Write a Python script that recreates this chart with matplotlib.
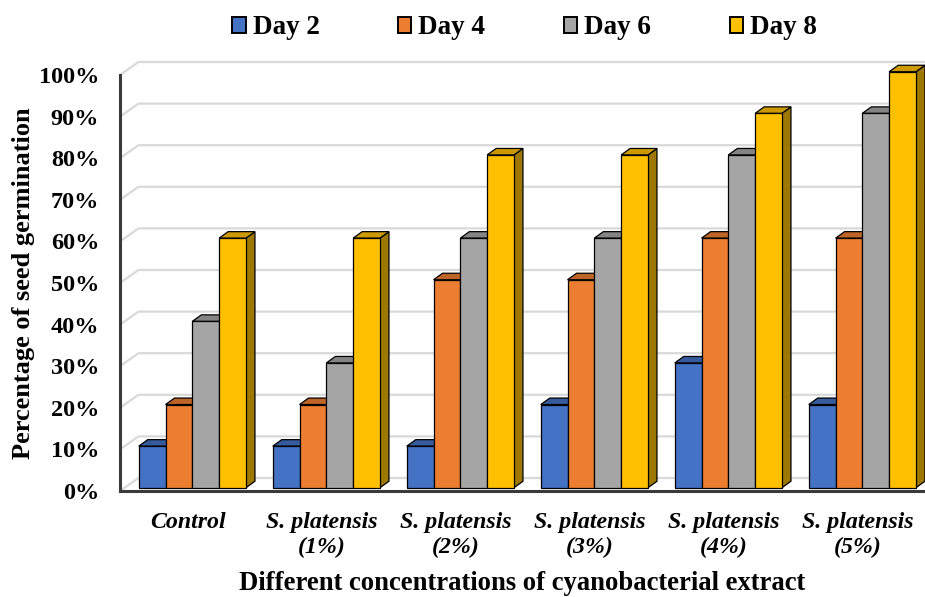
import matplotlib
matplotlib.use("Agg")
import matplotlib.pyplot as plt
from matplotlib.patches import Polygon, Patch
import numpy as np

categories = ["Control", "S. platensis\n(1%)", "S. platensis\n(2%)",
              "S. platensis\n(3%)", "S. platensis\n(4%)", "S. platensis\n(5%)"]
series_names = ["Day 2", "Day 4", "Day 6", "Day 8"]
day2 = [10, 10, 10, 20, 30, 20]
day4 = [20, 20, 50, 50, 60, 60]
day6 = [40, 30, 60, 60, 80, 90]
day8 = [60, 60, 80, 80, 90, 100]
yticks = list(range(0, 101, 10))

colors = ["#4472C4", "#ED7D31", "#A5A5A5", "#FFC000"]
series = [day2, day4, day6, day8]

plt.rcParams["font.family"] = ["Liberation Serif", "DejaVu Serif"]
plt.rcParams["font.weight"] = "bold"

W, H = 925, 597
fig = plt.figure(figsize=(W / 100, H / 100), dpi=100)
ax_l, ax_b, ax_w, ax_h = 120, 106, 805, 416
ax = fig.add_axes([ax_l / W, ax_b / H, ax_w / W, ax_h / H])

xmin, xmax = -0.5045, -0.5045 + ax_w / 134.0
ax.set_xlim(xmin, xmax)
ax.set_ylim(0, 100)

# pixel -> data unit factors for the oblique depth
ux = (xmax - xmin) / ax_w
uy = 100.0 / ax_h
wall_dx, wall_dy = 18.5 * ux, 13 * uy
bar_dx, bar_dy = 9 * ux, 6.5 * uy
front_dx, front_dy = (wall_dx - bar_dx) / 2, (wall_dy - bar_dy) / 2

# back wall gridlines with the side-wall diagonal
for v in yticks:
    ax.plot([xmin, xmin + wall_dx, xmax + 1], [v, v + wall_dy, v + wall_dy],
            color="#d9d9d9", lw=1.6, clip_on=False, zorder=1,
            solid_capstyle="butt")

def shade(c, f):
    rgb = np.array(matplotlib.colors.to_rgb(c))
    return tuple(rgb * f)

width = 0.2
x = np.arange(len(categories))
z = 2
for gi in range(len(categories)):
    for si, vals in enumerate(series):
        v = vals[gi]
        xc = x[gi] + (si - 1.5) * width + front_dx
        x0, x1 = xc - width / 2, xc + width / 2
        y0, y1 = front_dy, front_dy + v
        side = Polygon([(x1, y0), (x1 + bar_dx, y0 + bar_dy),
                        (x1 + bar_dx, y1 + bar_dy), (x1, y1)],
                       closed=True, facecolor=shade(colors[si], 0.62),
                       edgecolor="black", lw=0.9, clip_on=False, zorder=z)
        top = Polygon([(x0, y1), (x1, y1), (x1 + bar_dx, y1 + bar_dy),
                       (x0 + bar_dx, y1 + bar_dy)],
                      closed=True, facecolor=shade(colors[si], 0.8),
                      edgecolor="black", lw=0.9, clip_on=False, zorder=z)
        ax.add_patch(side)
        ax.add_patch(top)
        ax.bar(xc, v, width=width, bottom=y0, color=colors[si],
               edgecolor="black", linewidth=0.9, zorder=z + 1, clip_on=False)
        z += 2

for s in ["top", "right"]:
    ax.spines[s].set_visible(False)
for s in ["left", "bottom"]:
    ax.spines[s].set_color("#3a3a3a")
    ax.spines[s].set_linewidth(2.2)
    ax.spines[s].set_zorder(100)

ax.set_yticks(yticks)
ax.set_yticklabels([f"{t}%" for t in yticks], fontsize=17.5, fontweight="bold")
ax.tick_params(axis="y", length=0, pad=15)
ax.set_xticks(x)
ax.set_xticklabels(categories, fontsize=17.2, fontweight="bold",
                   fontstyle="italic", linespacing=1.25)
ax.tick_params(axis="x", length=0, pad=15)

ax.set_xlabel("Different concentrations of cyanobacterial extract",
              fontsize=19.2, fontweight="bold", labelpad=9)
ax.set_ylabel("Percentage of seed germination", fontsize=19,
              fontweight="bold", labelpad=3)

handles = [Patch(facecolor=c, edgecolor="black", lw=1.4) for c in colors]
fig.legend(handles, series_names, loc="center", bbox_to_anchor=(0.567, 1 - 28 / H),
           ncol=4, frameon=False, handlelength=0.5, handleheight=0.5,
           handletextpad=0.25, columnspacing=2.9,
           prop={"size": 19.5, "weight": "bold", "family": "Liberation Serif"})

fig.savefig("out.png", dpi=100)
